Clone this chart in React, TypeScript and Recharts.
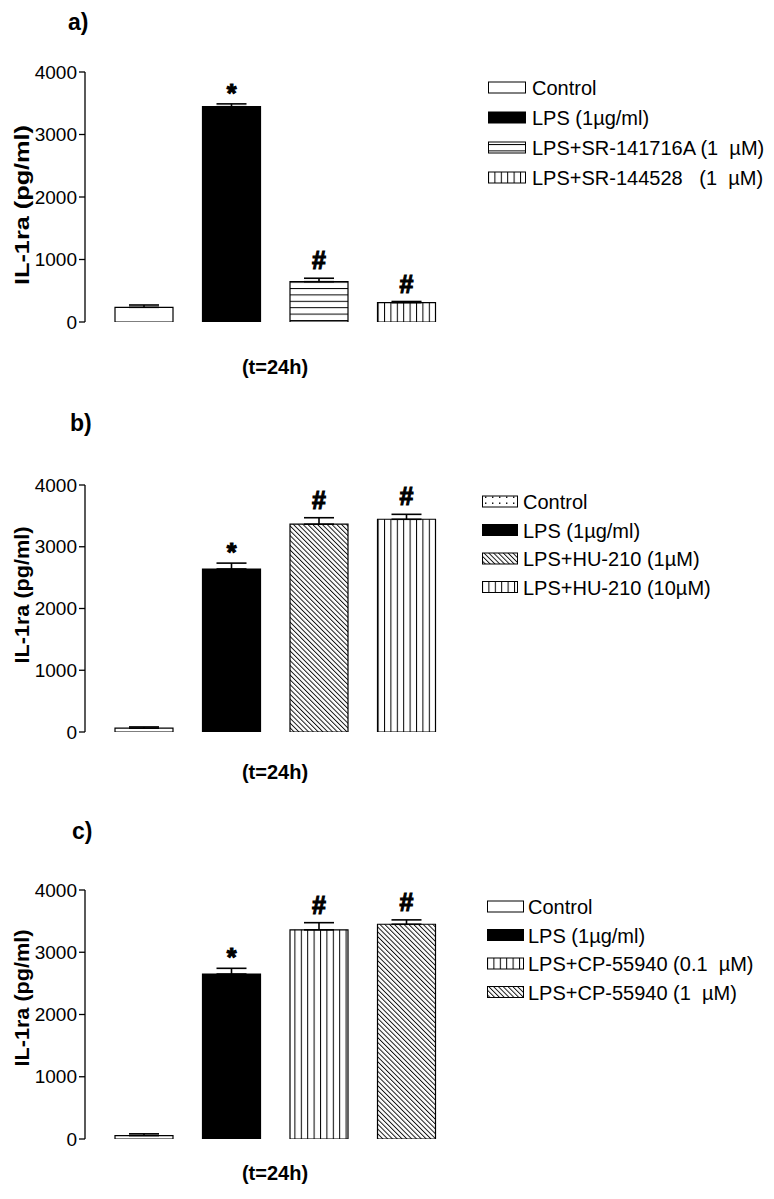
import React from 'react';
import { BarChart, Bar, XAxis, YAxis, Cell, ErrorBar, LabelList, Legend } from 'recharts';

// ---------- data ----------
const yTicks = [0, 1000, 2000, 3000, 4000];
const timeLabel = '(t=24h)';
const yAxisTitle = 'IL-1ra (pg/ml)';
const panelTitles = ['a)', 'b)', 'c)'];

const groupsA = ['Control', 'LPS (1µg/ml)', 'LPS+SR-141716A (1  µM)', 'LPS+SR-144528   (1  µM)'];
const valuesA = [235, 3445, 645, 310];
const errorsA = [37, 45, 55, 18];
const marksA = ['', '*', '#', '#'];

const groupsB = ['Control', 'LPS (1µg/ml)', 'LPS+HU-210 (1µM)', 'LPS+HU-210 (10µM)'];
const valuesB = [62, 2640, 3365, 3445];
const errorsB = [20, 95, 105, 80];
const marksB = ['', '*', '#', '#'];

const groupsC = ['Control', 'LPS (1µg/ml)', 'LPS+CP-55940 (0.1  µM)', 'LPS+CP-55940 (1  µM)'];
const valuesC = [55, 2650, 3360, 3450];
const errorsC = [28, 92, 115, 70];
const marksC = ['', '*', '#', '#'];

// ---------- layout / style ----------
const FONT = '"Liberation Sans", Arial, Helvetica, sans-serif';
const W = 774;
const H = 400;
const X_START = 85;
const X_END = 465;

const panels = [
  {
    groups: groupsA, values: valuesA, errors: errorsA, marks: marksA, title: panelTitles[0],
    top: 0, plotTop: 72, plotH: 250,
    fills: ['#ffffff', '#000000', 'url(#pat-h)', 'url(#pat-v)'],
    legendX: 488, legendY: 88, legendStep: 30, boxW: 37, textX: 532,
    titleX: 68, titleY: 30, timeY: 374, ylabX: 22, ylabY: 205, ylabLen: 160,
  },
  {
    groups: groupsB, values: valuesB, errors: errorsB, marks: marksB, title: panelTitles[1],
    top: 400, plotTop: 485, plotH: 247,
    fills: ['url(#pat-dots)', '#000000', 'url(#pat-d)', 'url(#pat-v)'],
    legendX: 482, legendY: 502, legendStep: 28.5, boxW: 35, textX: 523,
    titleX: 70, titleY: 431, timeY: 779, ylabX: 22, ylabY: 595, ylabLen: 137,
  },
  {
    groups: groupsC, values: valuesC, errors: errorsC, marks: marksC, title: panelTitles[2],
    top: 800, plotTop: 890, plotH: 249,
    fills: ['#ffffff', '#000000', 'url(#pat-v)', 'url(#pat-d)'],
    legendX: 487, legendY: 907, legendStep: 28.5, boxW: 36, textX: 528,
    titleX: 72, titleY: 839, timeY: 1180, ylabX: 22, ylabY: 998, ylabLen: 137,
  },
];

const Patterns = () => (
  <svg width={0} height={0} style={{ position: 'absolute' }}>
    <defs>
      <pattern id="pat-h" patternUnits="userSpaceOnUse" width={8} height={6.4}>
        <rect width={8} height={6.4} fill="#fff" />
        <line x1={0} y1={0.5} x2={8} y2={0.5} stroke="#000" strokeWidth={1} />
      </pattern>
      <pattern id="pat-v" patternUnits="userSpaceOnUse" width={6.4} height={8}>
        <rect width={6.4} height={8} fill="#fff" />
        <line x1={0.5} y1={0} x2={0.5} y2={8} stroke="#000" strokeWidth={1} />
      </pattern>
      <pattern id="pat-d" patternUnits="userSpaceOnUse" width={3.4} height={8} patternTransform="rotate(-45)">
        <rect width={3.4} height={8} fill="#fff" />
        <line x1={0.5} y1={0} x2={0.5} y2={8} stroke="#000" strokeWidth={0.9} />
      </pattern>
      <pattern id="pat-dots" patternUnits="userSpaceOnUse" width={7} height={6}>
        <rect width={7} height={6} fill="#fff" />
        <rect x={3} y={2.5} width={1.4} height={1.4} fill="#000" />
      </pattern>
    </defs>
  </svg>
);

const Panel = ({ p }: { p: any }) => {
  const data = p.groups.map((g: string, i: number) => ({
    name: g,
    value: p.values[i],
    err: [0, p.errors[i]],
    mark: p.marks[i],
  }));
  const margin = {
    top: p.plotTop - p.top,
    right: W - X_END,
    bottom: p.top + H - (p.plotTop + p.plotH),
    left: 0,
  };

  const YTitle = () => {
    const cy = p.ylabY - p.top;
    return (
      <g>
        <text x={p.titleX} y={p.titleY - p.top} fontFamily={FONT} fontWeight="bold" fontSize={23} fill="#000">{p.title}</text>
        <text x={p.ylabX} y={cy} transform={`rotate(-90 ${p.ylabX} ${cy})`} textAnchor="middle"
          dominantBaseline="central" fontFamily={FONT} fontWeight="bold" fontSize={20} fill="#000"
          textLength={p.ylabLen} lengthAdjust="spacingAndGlyphs">{yAxisTitle}</text>
        <text x={(X_START + X_END) / 2} y={p.timeY - p.top} textAnchor="middle"
          fontFamily={FONT} fontWeight="bold" fontSize={20} fill="#000">{timeLabel}</text>
      </g>
    );
  };

  const MarkLabel = (lp: any) => {
    const i = lp.index;
    const m = p.marks[i];
    if (!m) return null;
    const v = p.values[i];
    const errPx = (p.errors[i] * lp.height) / v;
    const cx = lp.x + lp.width / 2;
    const yTop = lp.y - errPx;
    const isStar = m === '*';
    return (
      <text x={cx} y={isStar ? yTop - 2 : yTop - 9} textAnchor="middle" fontFamily={FONT}
        fontWeight="bold" fontSize={isStar ? 25 : 25} fill="#000" stroke="#000" strokeWidth={1.1}>{m}</text>
    );
  };

  const LegendContent = () => (
    <svg width={290} height={140} style={{ overflow: 'visible' }}>
      {p.groups.map((g: string, i: number) => {
        const cy = 8 + i * p.legendStep;
        return (
          <g key={i}>
            <rect x={0.5} y={cy - 6} width={p.boxW} height={11} fill={p.fills[i]} stroke="#000" strokeWidth={1} />
            <text x={p.textX - p.legendX} y={cy + 7} fontFamily={FONT} fontSize={20} fill="#000"
              style={{ whiteSpace: 'pre' }}>{g}</text>
          </g>
        );
      })}
    </svg>
  );

  return (
    <div style={{ position: 'absolute', left: 0, top: p.top, width: W, height: H }}>
      <BarChart width={W} height={H} data={data} margin={margin} barCategoryGap={0}>
        <XAxis dataKey="name" tick={false} tickLine={false} height={0}
          axisLine={{ stroke: '#000', strokeWidth: 1.3 }} padding={{ left: 15, right: 15 }} />
        <YAxis width={85} domain={[0, 4000]} ticks={yTicks} interval={0} tickSize={6} tickMargin={2}
          axisLine={{ stroke: '#000', strokeWidth: 1.3 }} tickLine={{ stroke: '#000', strokeWidth: 1.3 }}
          tick={{ fill: '#000', fontSize: 19, fontFamily: FONT }} allowDataOverflow
          label={<YTitle />} />
        <Legend layout="horizontal" verticalAlign="middle" align="center"
          wrapperStyle={{ position: 'absolute', left: p.legendX, top: p.legendY - 8 - p.top, width: 290, height: 140 }}
          content={<LegendContent />} />
        <Bar dataKey="value" barSize={58} stroke="#000" strokeWidth={1.2} isAnimationActive={false}>
          {data.map((d: any, i: number) => (
            <Cell key={i} fill={p.fills[i]} />
          ))}
          <ErrorBar dataKey="err" width={15} stroke="#000" strokeWidth={1.6} direction="y" />
          <LabelList dataKey="mark" content={<MarkLabel />} />
        </Bar>
      </BarChart>
    </div>
  );
};

export default function App() {
  return (
    <div style={{ position: 'absolute', left: 0, top: 0, width: W, height: 1199, background: '#fff', overflow: 'hidden' }}>
      <Patterns />
      {panels.map((p, i) => (
        <Panel key={i} p={p} />
      ))}
    </div>
  );
}
